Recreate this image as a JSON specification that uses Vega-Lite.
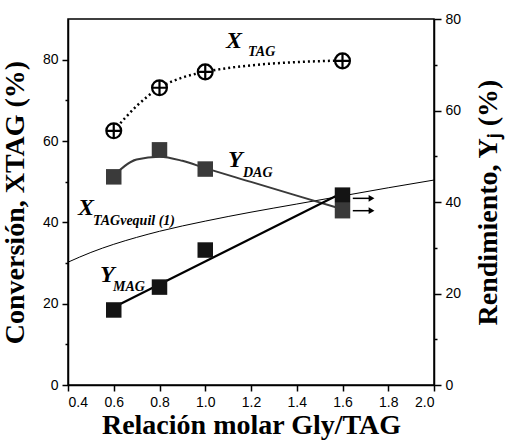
{
  "$schema": "https://vega.github.io/schema/vega-lite/v6.json",
  "width": 366,
  "height": 366,
  "autosize": "none",
  "padding": {"left": 68, "top": 19, "right": 74, "bottom": 60},
  "background": "white",
  "config": {
    "view": {"stroke": "black", "strokeWidth": 1.5},
    "axis": {
      "grid": false,
      "domainColor": "black",
      "domainWidth": 1.5,
      "tickColor": "black",
      "tickWidth": 1.5,
      "labelFont": "Liberation Sans",
      "labelFontSize": 14,
      "labelColor": "black",
      "titleFont": "Liberation Serif",
      "titleFontSize": 28,
      "titleFontWeight": "bold",
      "titleColor": "black"
    }
  },
  "datasets": {
    "xeq": [
      {"x": 0.4, "v": 30.2}, {"x": 0.5, "v": 32.6}, {"x": 0.6, "v": 34.6},
      {"x": 0.7, "v": 36.3}, {"x": 0.8, "v": 37.8}, {"x": 1.0, "v": 40.3},
      {"x": 1.2, "v": 42.5}, {"x": 1.4, "v": 44.5}, {"x": 1.6, "v": 46.5},
      {"x": 1.8, "v": 48.5}, {"x": 2.0, "v": 50.4}
    ],
    "xtagCurve": [
      {"x": 0.6, "v": 62.5}, {"x": 0.7, "v": 68.6}, {"x": 0.8, "v": 73.1},
      {"x": 0.9, "v": 75.6}, {"x": 1.0, "v": 77.0}, {"x": 1.2, "v": 78.6},
      {"x": 1.4, "v": 79.4}, {"x": 1.6, "v": 79.8}
    ],
    "xtag": [
      {"x": 0.6, "v": 62.5}, {"x": 0.8, "v": 73.1}, {"x": 1.0, "v": 77.0}, {"x": 1.6, "v": 79.7}
    ],
    "labels": [
      {"x": 1.091, "v": 82.9, "t": "X", "kind": "big"},
      {"x": 1.187, "v": 80.9, "t": "TAG", "kind": "sub"},
      {"x": 1.0995, "v": 53.6, "t": "Y", "kind": "big"},
      {"x": 1.165, "v": 51.1, "t": "DAG", "kind": "sub"},
      {"x": 0.4437, "v": 41.8, "t": "X", "kind": "big"},
      {"x": 0.509, "v": 39.3, "t": "TAGvequil (1)", "kind": "sub"},
      {"x": 0.540, "v": 25.3, "t": "Y", "kind": "big"},
      {"x": 0.597, "v": 23.1, "t": "MAG", "kind": "sub"}
    ],
    "dagCurve": [
      {"x": 0.6, "v": 45.8}, {"x": 0.7, "v": 49.3}, {"x": 0.8, "v": 49.9},
      {"x": 0.9, "v": 49.0}, {"x": 1.0, "v": 47.4}, {"x": 1.2, "v": 44.4},
      {"x": 1.4, "v": 41.4}, {"x": 1.6, "v": 38.4}
    ],
    "dag": [
      {"x": 0.6, "v": 45.5}, {"x": 0.8, "v": 51.4}, {"x": 1.0, "v": 47.2}, {"x": 1.6, "v": 38.1}
    ],
    "magLine": [
      {"x": 0.6, "v": 17.0}, {"x": 1.6, "v": 42.0}
    ],
    "mag": [
      {"x": 0.6, "v": 16.4}, {"x": 0.8, "v": 21.4}, {"x": 1.0, "v": 29.5}, {"x": 1.6, "v": 41.5}
    ],
    "arrows": [
      {"x": 1.645, "x2": 1.72, "xh": 1.727, "v": 40.8},
      {"x": 1.645, "x2": 1.72, "xh": 1.727, "v": 38.1}
    ]
  },
  "layer": [
    {
      "layer": [
        {
          "data": {"name": "xeq"},
          "mark": {"type": "line", "interpolate": "monotone", "color": "black", "strokeWidth": 1},
          "encoding": {
            "x": {
              "field": "x", "type": "quantitative",
              "scale": {"domain": [0.4, 2.0], "nice": false, "zero": false},
              "axis": {
                "values": [0.4, 0.6, 0.8, 1.0, 1.2, 1.4, 1.6, 1.8, 2.0],
                "format": ".1f",
                "tickSize": 6,
                "labelPadding": 4,
                "title": "Relación molar Gly/TAG",
                "titleBaseline": "alphabetic",
                "titleY": 48
              }
            },
            "y": {
              "field": "v", "type": "quantitative",
              "scale": {"domain": [0, 90], "nice": false},
              "axis": {
                "orient": "left",
                "values": [0, 10, 20, 30, 40, 50, 60, 70, 80],
                "labelExpr": "datum.value % 20 == 0 ? datum.label : ''",
                "tickSize": {"condition": {"test": "datum.value % 20 == 0", "value": 6}, "value": 3},
                "labelPadding": 4,
                "title": "Conversión, XTAG (%)",
                "titleAngle": -90,
                "titleBaseline": "alphabetic",
                "titleX": -45
              }
            }
          }
        },
        {
          "data": {"name": "xtagCurve"},
          "mark": {"type": "line", "interpolate": "monotone", "color": "black", "strokeWidth": 2.5, "strokeDash": [2, 3]},
          "encoding": {
            "x": {"field": "x", "type": "quantitative"},
            "y": {"field": "v", "type": "quantitative"}
          }
        },
        {
          "data": {"name": "xtag"},
          "mark": {
            "type": "point",
            "shape": "M-1,0A1,1 0 1,1 1,0A1,1 0 1,1 -1,0ZM-1,0L1,0M0,-1L0,1",
            "size": 220,
            "fill": "white",
            "fillOpacity": 1,
            "stroke": "black",
            "strokeWidth": 2.2,
            "opacity": 1
          },
          "encoding": {
            "x": {"field": "x", "type": "quantitative"},
            "y": {"field": "v", "type": "quantitative"}
          }
        },
        {
          "data": {"name": "labels"},
          "transform": [{"filter": "datum.kind == 'big'"}],
          "mark": {"type": "text", "align": "left", "baseline": "alphabetic", "font": "Liberation Serif", "fontSize": 24, "fontWeight": "bold", "fontStyle": "italic", "color": "black"},
          "encoding": {
            "x": {"field": "x", "type": "quantitative"},
            "y": {"field": "v", "type": "quantitative"},
            "text": {"field": "t"}
          }
        },
        {
          "data": {"name": "labels"},
          "transform": [{"filter": "datum.kind == 'sub'"}],
          "mark": {"type": "text", "align": "left", "baseline": "alphabetic", "font": "Liberation Serif", "fontSize": 14, "fontWeight": "bold", "fontStyle": "italic", "color": "black"},
          "encoding": {
            "x": {"field": "x", "type": "quantitative"},
            "y": {"field": "v", "type": "quantitative"},
            "text": {"field": "t"}
          }
        }
      ]
    },
    {
      "layer": [
        {
          "data": {"name": "dagCurve"},
          "mark": {"type": "line", "interpolate": "monotone", "color": "#3a3a3a", "strokeWidth": 2},
          "encoding": {
            "x": {"field": "x", "type": "quantitative"},
            "y": {
              "field": "v", "type": "quantitative",
              "scale": {"domain": [0, 80], "nice": false},
              "axis": {
                "orient": "right",
                "values": [0, 10, 20, 30, 40, 50, 60, 70, 80],
                "labelExpr": "datum.value % 20 == 0 ? datum.label : ''",
                "tickSize": {"condition": {"test": "datum.value % 20 == 0", "value": 7}, "value": 3},
                "labelPadding": 4,
                "title": "Rendimiento, Yⱼ (%)",
                "titleAngle": -90,
                "titleBaseline": "alphabetic",
                "titleX": 62
              }
            }
          }
        },
        {
          "data": {"name": "dag"},
          "mark": {"type": "square", "size": 240, "color": "#3a3a3a", "opacity": 1},
          "encoding": {
            "x": {"field": "x", "type": "quantitative"},
            "y": {"field": "v", "type": "quantitative"}
          }
        },
        {
          "data": {"name": "magLine"},
          "mark": {"type": "line", "color": "black", "strokeWidth": 2.2},
          "encoding": {
            "x": {"field": "x", "type": "quantitative"},
            "y": {"field": "v", "type": "quantitative"}
          }
        },
        {
          "data": {"name": "mag"},
          "mark": {"type": "square", "size": 240, "color": "#141414", "opacity": 1},
          "encoding": {
            "x": {"field": "x", "type": "quantitative"},
            "y": {"field": "v", "type": "quantitative"}
          }
        },
        {
          "data": {"name": "arrows"},
          "mark": {"type": "rule", "color": "black", "strokeWidth": 1.5},
          "encoding": {
            "x": {"field": "x", "type": "quantitative"},
            "x2": {"field": "x2"},
            "y": {"field": "v", "type": "quantitative"}
          }
        },
        {
          "data": {"name": "arrows"},
          "mark": {"type": "point", "shape": "triangle-right", "size": 45, "filled": true, "color": "black", "opacity": 1},
          "encoding": {
            "x": {"field": "xh", "type": "quantitative"},
            "y": {"field": "v", "type": "quantitative"}
          }
        }
      ]
    }
  ],
  "resolve": {"scale": {"y": "independent"}, "axis": {"y": "independent"}}
}
